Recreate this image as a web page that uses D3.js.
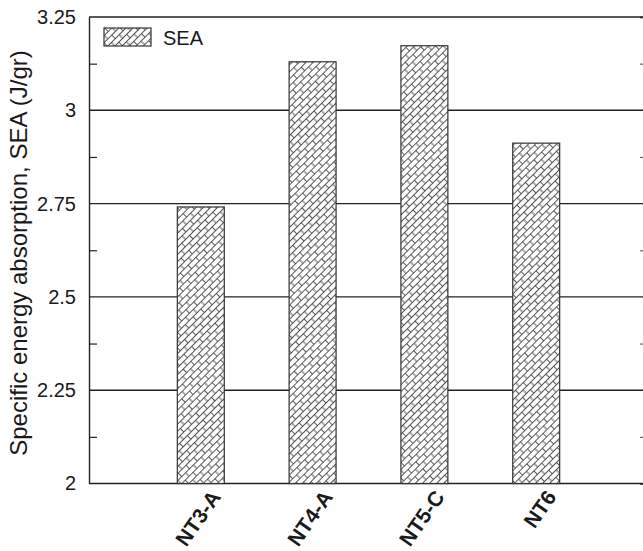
<!doctype html>
<html>
<head>
<meta charset="utf-8">
<style>
    body { margin: 0; background: #fff; }
    text { font-family: "Liberation Sans", Arial, sans-serif; fill: #1a1a1a; }
</style>
<script src="https://cdnjs.cloudflare.com/ajax/libs/d3/7.8.5/d3.min.js"></script>
</head>
<body>
<div id="chart"></div>
<script>
// data
var categories = ["NT3-A", "NT4-A", "NT5-C", "NT6"];
var seaValues = [2.741, 3.13, 3.173, 2.912];
var yTicks = [2, 2.25, 2.5, 2.75, 3, 3.25];
var yMinorTicks = [2.125, 2.375, 2.625, 2.875, 3.125];
var seriesName = "SEA";
var yTitle = "Specific energy absorption, SEA (J/gr)";

var width = 643, height = 551;
var plotLeft = 89, plotRight = 648, plotTop = 17, plotBottom = 483.5;
var ink = "#222";

var svg = d3.select('#chart')
    .append('svg')
    .attr('width', width)
    .attr('height', height);

// brick pattern for the bars
var defs = svg.append('defs');
var pat = defs.append('pattern')
    .attr('id', 'brick')
    .attr('patternUnits', 'userSpaceOnUse')
    .attr('width', 11)
    .attr('height', 10)
    .attr('patternTransform', 'rotate(-45)');
pat.append('rect').attr('width', 11).attr('height', 10).attr('fill', '#fff');
pat.append('path')
    .attr('d', 'M0,0.5H11M0,5.5H11M0.5,0.5V5.5M6,5.5V10.5')
    .attr('stroke', '#444')
    .attr('stroke-width', 0.9)
    .attr('fill', 'none');

var x = d3.scaleLinear()
    .domain([0, categories.length + 1])
    .range([plotLeft, plotRight]);

var y = d3.scaleLinear()
    .domain([2, 3.25])
    .range([plotBottom, plotTop]);

var barHalf = 0.21;

// grid lines
svg.append('g')
    .selectAll('line')
    .data(yTicks)
    .enter()
    .append('line')
    .attr('x1', plotLeft)
    .attr('x2', plotRight)
    .attr('y1', d => y(d))
    .attr('y2', d => y(d))
    .attr('stroke', ink)
    .attr('stroke-width', 1.4);

// bars
svg.append('g')
    .selectAll('rect')
    .data(seaValues)
    .enter()
    .append('rect')
    .attr('x', (d, i) => x(i + 1 - barHalf))
    .attr('y', d => y(d))
    .attr('width', (d, i) => x(i + 1 + barHalf) - x(i + 1 - barHalf))
    .attr('height', d => y(2) - y(d))
    .attr('fill', 'url(#brick)')
    .attr('stroke', '#333')
    .attr('stroke-width', 1.2);

// left axis: labels
var yAxis = d3.axisLeft(y)
    .tickValues(yTicks)
    .tickSize(0)
    .tickPadding(13)
    .tickFormat(d => String(d));

var gy = svg.append('g')
    .attr('transform', 'translate(' + plotLeft + ',0)')
    .call(yAxis);
gy.select('.domain').attr('stroke', ink).attr('stroke-width', 1.4);
gy.selectAll('text')
    .style('font-size', '20px')
    .attr('fill', '#1a1a1a');

// left axis: minor ticks inward
var gyMinor = svg.append('g')
    .attr('transform', 'translate(' + plotLeft + ',0)')
    .call(d3.axisLeft(y).tickValues(yMinorTicks).tickSize(-8).tickFormat(''));
gyMinor.select('.domain').remove();
gyMinor.selectAll('line').attr('stroke', ink).attr('stroke-width', 1.2);

// right axis
var gyRight = svg.append('g')
    .attr('transform', 'translate(' + plotRight + ',0)')
    .call(d3.axisRight(y).tickValues(yMinorTicks).tickSize(-8).tickFormat(''));
gyRight.select('.domain').attr('stroke', ink).attr('stroke-width', 1.4);
gyRight.selectAll('line').attr('stroke', '#666').attr('stroke-width', 1.2);

// bottom labels
svg.append('g')
    .selectAll('text')
    .data(categories)
    .enter()
    .append('text')
    .attr('transform', (d, i) => 'translate(' + (x(i + 1) + 21) + ',' + 497 + ') rotate(-55)')
    .attr('text-anchor', 'end')
    .style('font-size', '21px')
    .style('font-weight', 'bold')
    .text(d => d);

// y title
svg.append('text')
    .attr('transform', 'translate(27,253) rotate(-90)')
    .attr('text-anchor', 'middle')
    .style('font-size', '24px')
    .text(yTitle);

// legend
var legend = svg.append('g')
    .attr('transform', 'translate(104,28)');
legend.append('rect')
    .attr('width', 47)
    .attr('height', 18)
    .attr('fill', 'url(#brick)')
    .attr('stroke', '#333')
    .attr('stroke-width', 1.2);
legend.append('text')
    .attr('x', 59)
    .attr('y', 17)
    .style('font-size', '20px')
    .text(seriesName);
</script>
</body>
</html>
